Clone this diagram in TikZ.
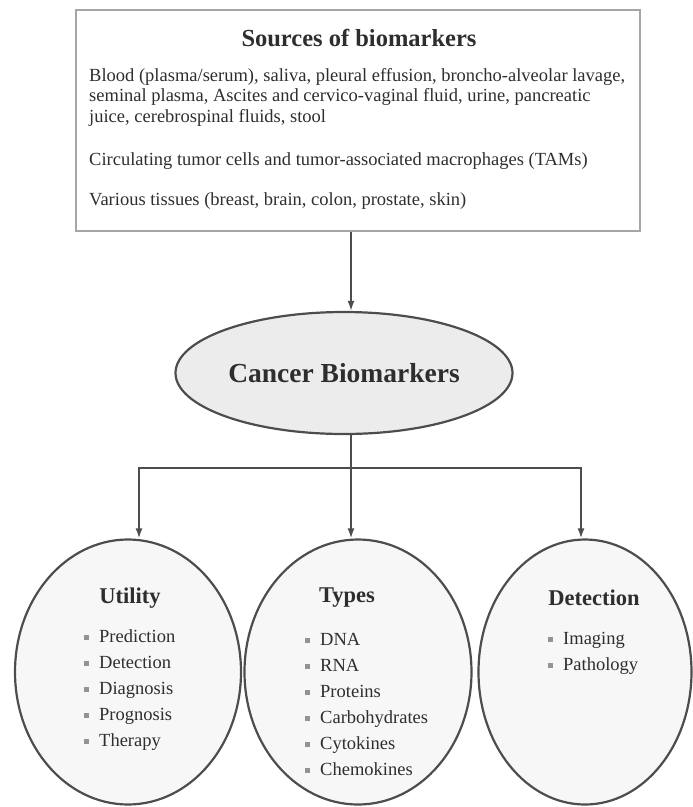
\documentclass[tikz,border=0pt]{standalone}
\usepackage{fontspec}
\setmainfont{Liberation Serif}
\usetikzlibrary{shapes.geometric,arrows.meta,positioning}
\definecolor{inkgray}{HTML}{2E2E2E}
\definecolor{linegray}{HTML}{4D4D4D}
\newcommand{\sqbullet}{\textcolor{gray!85}{\rule[0.25ex]{5pt}{5pt}}\hspace{10pt}}

\begin{document}
\begin{tikzpicture}[x=1pt,y=-1pt,
    trunk/.style={draw=linegray,line width=1.7pt},
    conn/.style={trunk,-{Latex[length=10pt,width=7pt]}},
    srcbox/.style={draw=gray!70,line width=1.2pt,minimum width=564pt,minimum height=221pt},
    srctitle/.style={font=\fontsize{24.5}{28}\selectfont\bfseries,text=inkgray},
    srctext/.style={anchor=west,inner sep=0pt,align=left,font=\fontsize{18.5}{20.5}\selectfont,text=inkgray},
    hub/.style={ellipse,draw=linegray,line width=2.2pt,fill=gray!15,minimum width=337pt,minimum height=122pt,font=\fontsize{27.5}{32}\selectfont\bfseries,text=inkgray},
    group/.style={ellipse,draw=linegray,line width=2.2pt,fill=gray!6,minimum height=265pt},
    grouptitle/.style={font=\fontsize{22.5}{26}\selectfont\bfseries,text=inkgray},
    grouplist/.style={anchor=west,inner sep=0pt,align=left,font=\fontsize{18.5}{26}\selectfont,text=inkgray}]

  % Fix the page size
  \useasboundingbox (0,0) rectangle (693,807);

  % Draw the sources box
  \node[srcbox] (src) at (358,120.5) {};
  \node[srctitle] (srchead) at (359,38) {Sources of biomarkers};
  \node[srctext] (fluids) at (89,97) {Blood (plasma/serum), saliva, pleural effusion, broncho-alveolar lavage,\\
    seminal plasma, Ascites and cervico-vaginal fluid, urine, pancreatic\\
    juice, cerebrospinal fluids, stool};
  \node[srctext] (cells) at (89,161) {Circulating tumor cells and tumor-associated macrophages (TAMs)};
  \node[srctext] (tissues) at (89,201) {Various tissues (breast, brain, colon, prostate, skin)};

  % Draw the central ellipse
  \node[hub] (cb) at (344,373) {Cancer Biomarkers};
  \coordinate (hubtop) at ([xshift=7pt]cb.north);
  \coordinate (hubbot) at ([xshift=7pt]cb.south);

  % Draw the three groups
  \node[group,minimum width=226pt] (utility) at (128,672) {};
  \node[group,minimum width=227pt] (types) at (358,672) {};
  \node[group,minimum width=213pt] (detection) at (585,672) {};

  \node[grouptitle] (utilhead) at (130,598) {Utility};
  \node[grouplist] (utillist) at (84,690) {\sqbullet Prediction\\ \sqbullet Detection\\ \sqbullet Diagnosis\\ \sqbullet Prognosis\\ \sqbullet Therapy};

  \node[grouptitle] (typehead) at (347,598) {Types};
  \node[grouplist] (typelist) at (305,704.5) {\sqbullet DNA\\ \sqbullet RNA\\ \sqbullet Proteins\\ \sqbullet Carbohydrates\\ \sqbullet Cytokines\\ \sqbullet Chemokines};

  \node[grouptitle] (dethead) at (594,598) {Detection};
  \node[grouplist] (detlist) at (548,653) {\sqbullet Imaging\\ \sqbullet Pathology};

  % Draw the arrows
  \draw[conn] (src.south -| hubtop) -- (hubtop);
  \draw[trunk] (hubbot) -- ++(0,33) coordinate (fork);
  \draw[conn] (fork) -| ([xshift=11pt]utility.north);
  \draw[conn] (fork) -- ([xshift=-7pt]types.north);
  \draw[conn] (fork) -| ([xshift=-4pt]detection.north);
\end{tikzpicture}
\end{document}
